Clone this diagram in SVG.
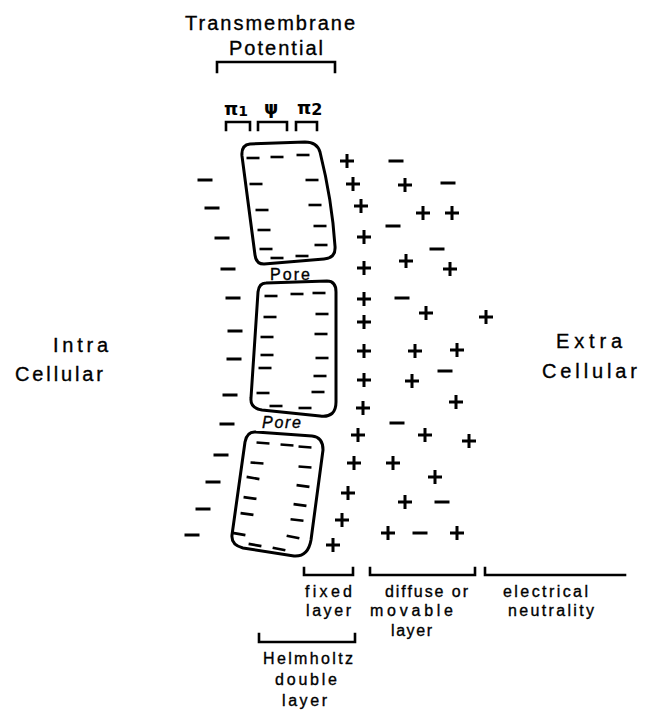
<svg xmlns="http://www.w3.org/2000/svg" xmlns:xlink="http://www.w3.org/1999/xlink" width="652" height="711" viewBox="0 0 652 711">
  <style>
    .lbl { font-family: "Liberation Sans", Arial, sans-serif; fill: #000; stroke: #000; stroke-width: 0.35; }
    .big { font-size: 20px; }
    .mid { font-size: 16px; }
    .greek { font-family: "DejaVu Sans", "Liberation Sans", sans-serif; font-size: 18px; font-weight: bold; fill: #000; }
    .ln { fill: none; stroke: #000; stroke-width: 2.6; stroke-linecap: square; }
    .cell { fill: #fff; stroke: #000; stroke-width: 3; stroke-linejoin: round; }
    .ch { fill: none; stroke: #000; stroke-width: 3; stroke-linecap: butt; }
    .dash { fill: none; stroke: #000; stroke-width: 2.6; }
  </style>
  <defs>
    <path id="plus" d="M-7,0H7M0,-7V7"/>
    <path id="minus" d="M-7.5,0H7.5"/>
    <path id="d" d="M-6.5,0H6.5"/>
  </defs>
  <rect width="652" height="711" fill="#fff"/>

  <!-- heading -->
  <g id="title">
    <text class="lbl big" x="185" y="30" textLength="170" lengthAdjust="spacing">Transmembrane</text>
    <text class="lbl big" x="229" y="55" textLength="94" lengthAdjust="spacing">Potential</text>
  </g>

  <!-- potential components -->
  <g id="components">
    <text class="greek" x="224" y="115">π<tspan font-size="14" dy="1">1</tspan></text>
    <text class="greek" x="264" y="114">ψ</text>
    <text class="greek" x="297" y="114">π<tspan font-size="16" dy="1">2</tspan></text>
  </g>

  <!-- side labels -->
  <g id="intracellular">
    <text class="lbl big" x="53" y="352" textLength="55" lengthAdjust="spacing">Intra</text>
    <text class="lbl big" x="15" y="381" textLength="88" lengthAdjust="spacing">Cellular</text>
  </g>
  <g id="extracellular">
    <text class="lbl big" x="556" y="348" textLength="66" lengthAdjust="spacing">Extra</text>
    <text class="lbl big" x="542" y="378" textLength="95" lengthAdjust="spacing">Cellular</text>
  </g>

  <!-- membrane blocks with fixed interior charges -->
  <g id="block1">
    <path class="cell" d="M250,144 L305,142 Q317,142 320,152 Q332,200 335,246 Q336,258 324,259 L264,264 Q256,264 255,255 L242,156 Q241,145 250,144 Z"/>
    <g class="dash">
      <use href="#d" x="253" y="158"/><use href="#d" x="277" y="157"/><use href="#d" x="303" y="155"/>
      <use href="#d" x="256" y="184"/><use href="#d" x="262" y="210"/><use href="#d" x="264" y="230"/><use href="#d" x="266" y="249"/>
      <use href="#d" x="312" y="180"/><use href="#d" x="315" y="205"/><use href="#d" x="320" y="226"/><use href="#d" x="321" y="245"/>
      <use href="#d" x="277" y="258"/><use href="#d" x="302" y="256"/>
    </g>
  </g>
  <g id="pore1">
    <text class="lbl" font-size="16" x="270" y="280" textLength="40" lengthAdjust="spacing">Pore</text>
  </g>
  <g id="block2">
    <path class="cell" d="M266,283 L327,281 Q336,281 336,292 L336,402 Q336,418 320,416 L262,410 Q250,408 251,398 L258,292 Q259,283 266,283 Z"/>
    <g class="dash">
      <use href="#d" x="271" y="296"/><use href="#d" x="297" y="294"/><use href="#d" x="319" y="293"/>
      <use href="#d" x="270" y="317"/><use href="#d" x="267" y="337"/><use href="#d" x="267" y="355"/><use href="#d" x="265" y="368"/><use href="#d" x="263" y="393"/>
      <use href="#d" x="322" y="314"/><use href="#d" x="321" y="334"/><use href="#d" x="322" y="358"/><use href="#d" x="320" y="376"/><use href="#d" x="318" y="392"/>
      <use href="#d" x="276" y="406"/><use href="#d" x="305" y="408"/>
    </g>
  </g>
  <g id="pore2">
    <text class="lbl" font-size="16" font-style="italic" x="262" y="428" textLength="39" lengthAdjust="spacing">Pore</text>
  </g>
  <g id="block3">
    <path class="cell" d="M256,432 L312,436 Q323,437 323,450 L311,540 Q308,557 294,556 L243,548 Q231,545 232,535 L245,442 Q247,431 256,432 Z"/>
    <g class="dash">
      <use href="#d" transform="translate(263,443) rotate(4)"/><use href="#d" transform="translate(287,445) rotate(4)"/><use href="#d" transform="translate(305,447) rotate(4)"/>
      <use href="#d" transform="translate(257,463) rotate(5)"/><use href="#d" transform="translate(253,478) rotate(10)"/><use href="#d" transform="translate(250,498) rotate(8)"/><use href="#d" transform="translate(247,514) rotate(8)"/><use href="#d" transform="translate(239,534) rotate(10)"/>
      <use href="#d" transform="translate(305,467) rotate(4)"/><use href="#d" transform="translate(303,486) rotate(8)"/><use href="#d" transform="translate(300,505) rotate(8)"/><use href="#d" transform="translate(297,520) rotate(6)"/><use href="#d" transform="translate(293,537) rotate(12)"/>
      <use href="#d" transform="translate(255,545) rotate(10)"/><use href="#d" transform="translate(279,549) rotate(12)"/>
    </g>
  </g>

  <!-- intracellular counter-ions -->
  <g id="inner-ions" class="ch">
    <use href="#minus" x="205" y="180"/><use href="#minus" x="212" y="208"/><use href="#minus" x="222" y="238"/>
    <use href="#minus" x="228" y="269"/><use href="#minus" x="233" y="298"/><use href="#minus" x="235" y="331"/>
    <use href="#minus" x="234" y="359"/><use href="#minus" x="230" y="395"/><use href="#minus" x="227" y="424"/>
    <use href="#minus" x="221" y="455"/><use href="#minus" x="213" y="482"/><use href="#minus" x="203" y="509"/>
    <use href="#minus" x="192" y="535"/>
  </g>

  <!-- fixed layer -->
  <g id="fixed-ions" class="ch">
    <use href="#plus" x="347" y="161"/><use href="#plus" x="353" y="184"/><use href="#plus" x="361" y="206"/>
    <use href="#plus" x="364" y="237"/><use href="#plus" x="364" y="268"/><use href="#plus" x="364" y="299"/>
    <use href="#plus" x="364" y="322"/><use href="#plus" x="364" y="351"/><use href="#plus" x="364" y="380"/>
    <use href="#plus" x="363" y="408"/><use href="#plus" x="358" y="435"/><use href="#plus" x="354" y="463"/>
    <use href="#plus" x="348" y="493"/><use href="#plus" x="342" y="520"/><use href="#plus" x="333" y="545"/>
  </g>

  <!-- diffuse layer -->
  <g id="diffuse-ions" class="ch">
    <use href="#minus" x="396" y="161"/><use href="#plus" x="405" y="185"/><use href="#minus" x="448" y="183"/>
    <use href="#plus" x="423" y="213"/><use href="#plus" x="452" y="213"/><use href="#minus" x="393" y="226"/>
    <use href="#minus" x="437" y="249"/><use href="#plus" x="406" y="261"/><use href="#plus" x="450" y="269"/>
    <use href="#minus" x="402" y="298"/><use href="#plus" x="426" y="313"/><use href="#plus" x="486" y="317"/>
    <use href="#plus" x="415" y="351"/><use href="#plus" x="457" y="350"/><use href="#minus" x="445" y="371"/>
    <use href="#plus" x="412" y="381"/><use href="#plus" x="456" y="402"/><use href="#minus" x="397" y="423"/>
    <use href="#plus" x="425" y="435"/><use href="#plus" x="469" y="441"/><use href="#plus" x="393" y="463"/>
    <use href="#plus" x="435" y="477"/><use href="#plus" x="405" y="502"/><use href="#minus" x="442" y="502"/>
    <use href="#plus" x="388" y="533"/><use href="#minus" x="420" y="533"/><use href="#plus" x="457" y="533"/>
  </g>

  <!-- brackets -->
  <g id="connectors" class="ln">
    <path d="M217,72V62H335V72"/>
    <path d="M226,130V122H250V130"/>
    <path d="M258,130V122H287V130"/>
    <path d="M296,130V122H317V130"/>
    <path d="M304,568V575H353V568"/>
    <path d="M370,568V575H475V568"/>
    <path d="M485,568V575H625"/>
    <path d="M259,634V642H355V634"/>
  </g>

  <!-- layer labels -->
  <g id="fixed-layer">
    <text class="lbl mid" x="305" y="597" textLength="47" lengthAdjust="spacing">fixed</text>
    <text class="lbl mid" x="306" y="616" textLength="45" lengthAdjust="spacing">layer</text>
  </g>
  <g id="diffuse-layer">
    <text class="lbl mid" x="385" y="597" textLength="83" lengthAdjust="spacing">diffuse or</text>
    <text class="lbl mid" x="370" y="616" textLength="83" lengthAdjust="spacing">movable</text>
    <text class="lbl mid" x="391" y="636" textLength="41" lengthAdjust="spacing">layer</text>
  </g>
  <g id="neutrality">
    <text class="lbl mid" x="503" y="597" textLength="85" lengthAdjust="spacing">electrical</text>
    <text class="lbl mid" x="508" y="616" textLength="86" lengthAdjust="spacing">neutrality</text>
  </g>
  <g id="helmholtz">
    <text class="lbl mid" x="263" y="664" textLength="90" lengthAdjust="spacing">Helmholtz</text>
    <text class="lbl mid" x="275" y="685" textLength="62" lengthAdjust="spacing">double</text>
    <text class="lbl mid" x="282" y="706" textLength="45" lengthAdjust="spacing">layer</text>
  </g>
</svg>
